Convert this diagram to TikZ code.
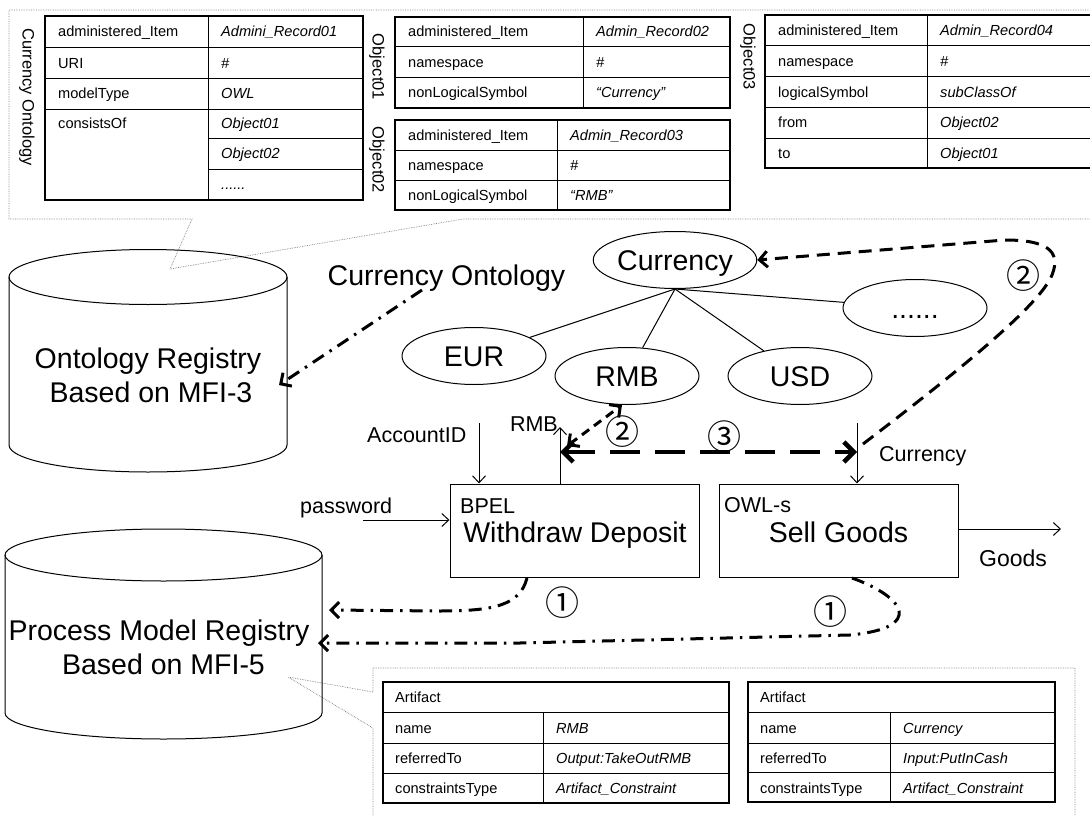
\documentclass[tikz,border=0pt]{standalone}
\usepackage{fontspec}
\setmainfont{Liberation Sans}
\newfontfamily\circfont{Noto Sans CJK JP}
\usetikzlibrary{arrows.meta,shapes.geometric,calc}
\begin{document}
\begin{tikzpicture}[x=1pt,y=-1pt,
  bigtxt/.style={font=\fontsize{28.5}{34}\selectfont, inner sep=0},
  midtxt/.style={font=\fontsize{21.5}{25}\selectfont, inner sep=0},
  tabtxt/.style={font=\fontsize{14.6}{16}\selectfont, anchor=base west, inner sep=0},
  tabit/.style={font=\fontsize{14.6}{16}\selectfont\itshape, anchor=base west, inner sep=0},
  rottxt/.style={font=\fontsize{16.5}{18}\selectfont, rotate=-90, inner sep=0},
  ellnode/.style={ellipse, draw, line width=1pt, minimum width=144pt, minimum height=57pt, inner sep=0, text height=20.5pt, text depth=0pt, font=\fontsize{28.5}{34}\selectfont},
  procbox/.style={draw, line width=1pt, inner sep=0, minimum height=93pt},
  inarrow/.style={line width=1pt, -{Straight Barb[length=7pt,width=13pt]}},
  tborder/.style={line width=2.2pt},
  tline/.style={line width=1pt},
  calloutline/.style={densely dotted, line width=0.7pt, gray},
  ddline/.style={line width=3pt, dash pattern=on 13pt off 7pt on 2.5pt off 7pt},
  dline/.style={line width=3pt, dash pattern=on 13pt off 8pt},
  boldtip/.style={-{Straight Barb[length=8pt,width=16pt]}},
  circnum/.style={font=\fontsize{34}{34}\selectfont\circfont, inner sep=0}
]
\useasboundingbox (0,0) rectangle (1090,816);

% ---------- callout frames ----------
\draw[calloutline] (9,10) -- (1100,10) -- (1100,219) -- (463,219) -- (170,269) -- (192,219) -- (9,219) -- cycle;
\draw[calloutline] (373,668) -- (1075,668) -- (1075,820) -- (373,820) -- (373,728) -- (288,677) -- (373,692) -- cycle;

% ---------- table 1: Currency Ontology ----------
\draw[tline] (45,48) -- (363,48) (45,79) -- (363,79) (45,109) -- (363,109)
  (208,138) -- (363,138) (208,169) -- (363,169) (208,16) -- (208,200);
\draw[tborder] (45,16) rectangle (363,200);
\node[tabtxt] (t1a) at (58,37) {administered\_Item};
\node[tabit]  (t1b) at (221,37) {Admini\_Record01};
\node[tabtxt] (t1c) at (58,68.5) {URI};
\node[tabit]  (t1d) at (221,68.5) {\#};
\node[tabtxt] (t1e) at (58,99) {modelType};
\node[tabit]  (t1f) at (221,99) {OWL};
\node[tabtxt] (t1g) at (58,128.5) {consistsOf};
\node[tabit]  (t1h) at (221,128.5) {Object01};
\node[tabit]  (t1i) at (221,158.5) {Object02};
\node[tabit]  (t1j) at (221,189.5) {......};
\node[rottxt] (lco) at (27,97) {Currency Ontology};

% ---------- table 2: Object01 ----------
\draw[tline] (395,47) -- (730,47) (395,78) -- (730,78) (583,17) -- (583,108);
\draw[tborder] (395,17) rectangle (730,108);
\node[tabtxt] (t2a) at (408,37) {administered\_Item};
\node[tabit]  (t2b) at (596,37) {Admin\_Record02};
\node[tabtxt] (t2c) at (408,67.5) {namespace};
\node[tabit]  (t2d) at (596,67.5) {\#};
\node[tabtxt] (t2e) at (408,98) {nonLogicalSymbol};
\node[tabit]  (t2f) at (596,98) {“Currency”};
\node[rottxt] (lo1) at (377,67) {Object01};

% ---------- table 3: Object02 ----------
\draw[tline] (395,150) -- (730,150) (395,180) -- (730,180) (557,120) -- (557,210);
\draw[tborder] (395,120) rectangle (730,210);
\node[tabtxt] (t3a) at (408,140) {administered\_Item};
\node[tabit]  (t3b) at (570,140) {Admin\_Record03};
\node[tabtxt] (t3c) at (408,170) {namespace};
\node[tabit]  (t3d) at (570,170) {\#};
\node[tabtxt] (t3e) at (408,200) {nonLogicalSymbol};
\node[tabit]  (t3f) at (570,200) {“RMB”};
\node[rottxt] (lo2) at (377,160) {Object02};

% ---------- table 4: Object03 ----------
\draw[tline] (765,46) -- (1092,46) (765,77) -- (1092,77) (765,107) -- (1092,107)
  (765,138) -- (1092,138) (927,15) -- (927,168);
\draw[tborder] (765,15) rectangle (1092,168);
\node[tabtxt] (t4a) at (778,35.5) {administered\_Item};
\node[tabit]  (t4b) at (940,35.5) {Admin\_Record04};
\node[tabtxt] (t4c) at (778,66.5) {namespace};
\node[tabit]  (t4d) at (940,66.5) {\#};
\node[tabtxt] (t4e) at (778,97) {logicalSymbol};
\node[tabit]  (t4f) at (940,97) {subClassOf};
\node[tabtxt] (t4g) at (778,127.5) {from};
\node[tabit]  (t4h) at (940,127.5) {Object02};
\node[tabtxt] (t4i) at (778,158) {to};
\node[tabit]  (t4j) at (940,158) {Object01};
\node[rottxt] (lo3) at (748,57) {Object03};

% ---------- table 5 ----------
\draw[tline] (383,712) -- (729,712) (383,743) -- (729,743) (383,773) -- (729,773) (543,712) -- (543,803);
\draw[tborder] (383,682) rectangle (729,803);
\node[tabtxt] (t5a) at (395,702.5) {Artifact};
\node[tabtxt] (t5b) at (395,733) {name};
\node[tabit]  (t5c) at (556,733) {RMB};
\node[tabtxt] (t5d) at (395,763.5) {referredTo};
\node[tabit]  (t5e) at (556,763.5) {Output:TakeOutRMB};
\node[tabtxt] (t5f) at (395,793.5) {constraintsType};
\node[tabit]  (t5g) at (556,793.5) {Artifact\_Constraint};

% ---------- table 6 ----------
\draw[tline] (748,712) -- (1055,712) (748,743) -- (1055,743) (748,772) -- (1055,772) (890,712) -- (890,802);
\draw[tborder] (748,682) rectangle (1055,802);
\node[tabtxt] (t6a) at (760,702.5) {Artifact};
\node[tabtxt] (t6b) at (760,733) {name};
\node[tabit]  (t6c) at (903,733) {Currency};
\node[tabtxt] (t6d) at (760,763) {referredTo};
\node[tabit]  (t6e) at (903,763) {Input:PutInCash};
\node[tabtxt] (t6f) at (760,793) {constraintsType};
\node[tabit]  (t6g) at (903,793) {Artifact\_Constraint};

% ---------- cylinders ----------
\draw[line width=1pt] (148,277) ellipse [x radius=139, y radius=27.5];
\draw[line width=1pt] (9,277) -- (9,445) arc[start angle=180, end angle=0, x radius=139, y radius=27] -- (287,277);
\node[bigtxt, anchor=base] (reg1a) at (148,368) {Ontology Registry};
\node[bigtxt, anchor=base] (reg1b) at (151,402) {Based on MFI-3};

\draw[line width=1pt] (163.5,555) ellipse [x radius=158.5, y radius=26];
\draw[line width=1pt] (5,555) -- (5,713) arc[start angle=180, end angle=0, x radius=158.5, y radius=26] -- (322,555);
\node[bigtxt, anchor=base] (reg2a) at (159,640) {Process Model Registry};
\node[bigtxt, anchor=base] (reg2b) at (163.5,674) {Based on MFI-5};

\node[bigtxt, anchor=base] (colabel) at (446.5,285) {Currency Ontology};

% ---------- ontology tree ----------
\node[ellnode] (cur) at (675,260) {Currency};
\node[ellnode] (eur) at (474,356) {EUR};
\node[ellnode] (rmb) at (627,376) {RMB};
\node[ellnode] (usd) at (800,376) {USD};
\node[ellnode] (dots) at (915,308) {......};
\draw[line width=1pt] (cur.south) -- (eur);
\draw[line width=1pt] (cur.south) -- (rmb);
\draw[line width=1pt] (cur.south) -- (usd);
\draw[line width=1pt] (cur.south) -- (dots);

% ---------- process boxes ----------
\node[procbox, minimum width=249pt] (wd) at (574.5,530.5) {};
\node[procbox, minimum width=239pt] (sg) at (838.5,530.5) {};
\node[midtxt, anchor=base west] (bpel) at (460,513) {BPEL};
\node[bigtxt, anchor=base] (wdt) at (575,542) {Withdraw Deposit};
\node[midtxt, anchor=base west] (owls) at (724,512) {OWL-s};
\node[bigtxt, anchor=base] (sgt) at (838.5,542) {Sell Goods};

% ---------- data labels and thin arrows ----------
\node[midtxt, anchor=base west] (accl) at (367,442) {AccountID};
\node[midtxt, anchor=base west] (pwl) at (300,513) {password};
\node[midtxt, anchor=base east] (rmbl) at (558,431) {RMB};
\node[midtxt, anchor=base west] (curl) at (879,461) {Currency};
\node[midtxt, anchor=base west, font=\fontsize{23}{26}\selectfont] (goodsl) at (979,566) {Goods};

\coordinate (acc) at (479,423);
\draw[inarrow] (acc) -- (acc |- wd.north);
\coordinate (pw) at (363,520);
\draw[inarrow] (pw) -- (pw -| wd.west);
\coordinate (rmbout) at (560,427);
\draw[inarrow] (rmbout |- wd.north) -- (rmbout);
\coordinate (curin) at (857,423);
\draw[inarrow] (curin) -- (curin |- sg.north);
\coordinate (goodsE) at (1061,529);
\draw[inarrow] (sg.east |- goodsE) -- (goodsE);

% ---------- bold dashed connectors ----------
\coordinate (coS) at (422,290);
\coordinate (reg1in) at (279,385);
\draw[ddline, boldtip] (coS) -- (reg1in);

\coordinate (wdout) at (527,578);
\coordinate (reg2in1) at (329,610);
\draw[ddline, boldtip] (wdout) .. controls (520,605) and (495,611) .. (440,611) -- (reg2in1);

\coordinate (sgout) at (852,578);
\coordinate (reg2in2) at (318,643);
\draw[ddline, boldtip] (sgout) .. controls (905,597) and (925,628) .. (850,635) -- (520,643) -- (reg2in2);

\coordinate (sgin2) at (863,444);
\draw[dline, boldtip] (sgin2) .. controls (960,370) and (1040,305) .. (1052,275) .. controls (1062,250) and (1045,240) .. (1005,240) -- (cur.east);

\coordinate (rmbq) at (567,446);
\draw[dline, dash pattern=on 9pt off 6pt, {Straight Barb[length=8pt,width=16pt]}-{Straight Barb[length=8pt,width=16pt]}] (rmbq) -- ([xshift=-5pt]rmb.south);

\coordinate (wdR) at (560,452);
\coordinate (sgC) at (857,452);
\draw[line width=4.5pt, dash pattern=on 30pt off 15pt, {Straight Barb[length=10pt,width=20pt]}-{Straight Barb[length=10pt,width=20pt]}] (wdR) -- (sgC);

% ---------- circled step numbers ----------
\node[circnum] (n2a) at (1023,276) {②};
\node[circnum] (n2b) at (622,432) {②};
\node[circnum] (n3) at (724,437) {③};
\node[circnum] (n1a) at (562,603) {①};
\node[circnum] (n1b) at (830,612) {①};
\end{tikzpicture}
\end{document}
